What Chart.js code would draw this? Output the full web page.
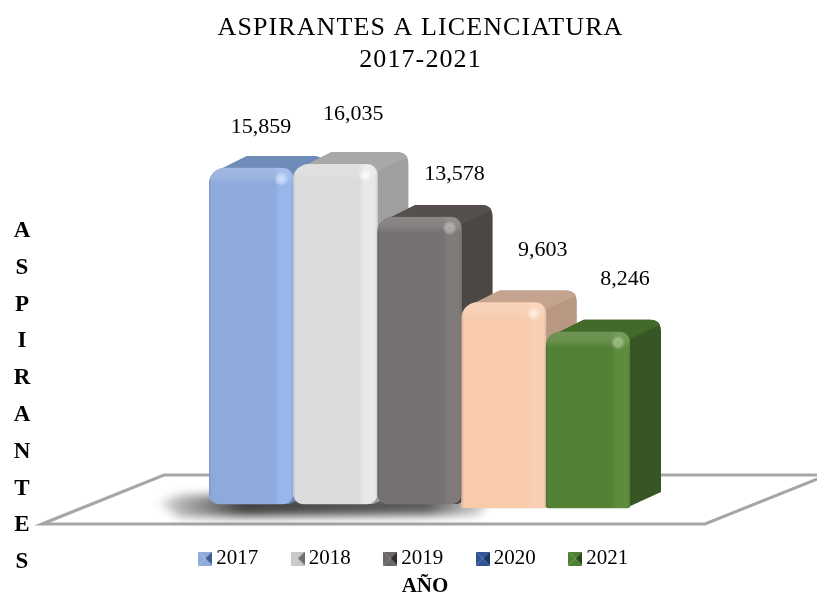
<!DOCTYPE html>
<html>
<head>
<meta charset="utf-8">
<title>Aspirantes a licenciatura</title>
<script src="https://cdn.jsdelivr.net/npm/chart.js@4"></script>
<style>
  html, body { margin: 0; padding: 0; background: #fff; }
  canvas { display: block; }
</style>
</head>
<body>
<canvas id="aspirantesChart" width="817" height="592"></canvas>
<script>
const categories = ['2017', '2018', '2019', '2020', '2021'];
const aspirantes = [15859, 16035, 13578, 9603, 8246];
const titleLines = ['ASPIRANTES A LICENCIATURA', '2017-2021'];
const yAxisTitle = ['A', 'S', 'P', 'I', 'R', 'A', 'N', 'T', 'E', 'S'];
const xAxisTitle = 'AÑO';

// Face colours per bar
const frontColors = ['#8eaadb', '#dbdbdb', '#767171', '#f8cbad', '#538135'];
const sideColors = ['#6a83ad', '#9f9f9f', '#4b4745', '#b89783', '#375623'];
const topColors = ['#6f8bb8', '#a8a8a8', '#55504e', '#c4a48e', '#426a28'];
const stripColors = ['#98b6ec', '#e8e8e8', '#807b7b', '#fad0b4', '#5d8c3c'];
const glareColors = ['#c9dcff', '#ffffff', '#a09c9c', '#fff0e0', '#7fae5f'];
// The legend swatch of 2020 is blue in the source, not the colour of its bar
const swatchColors = ['#8eaadb', '#c8c8c8', '#6b6767', '#2f5597', '#4f8132'];
const swatchDarks = ['#3f5f94', '#6f6f6f', '#2f2d2c', '#1c3766', '#2a4a18'];

// Drawing tweaks, px
const depthX = 31;
const depthY = 12;
const labelShiftX = [10, 18, 35, 39, 37];
const labelGapY = [41, 50, 43, 52, 52];
const baseLift = [5, 5, 5, 1, 1];
const cornerBottom = [11, 11, 11, 2, 3];

const SERIF = '"Liberation Serif", serif';

function makeSwatch(light, dark) {
    const c = document.createElement('canvas');
    c.width = 14;
    c.height = 14;
    const g = c.getContext('2d');
    const tri = (ax, ay, bx, by, color) => {
        g.fillStyle = color;
        g.beginPath();
        g.moveTo(ax, ay);
        g.lineTo(bx, by);
        g.lineTo(7, 7);
        g.closePath();
        g.fill();
    };
    tri(0, 0, 14, 0, light);
    tri(14, 0, 14, 14, dark);
    tri(14, 14, 0, 14, light);
    tri(0, 14, 0, 0, light);
    return c;
}
const swatches = categories.map((c, i) => makeSwatch(swatchColors[i], swatchDarks[i]));

function barBox(el, i) {
    return { l: el.x - el.width / 2, r: el.x + el.width / 2, t: el.y, b: el.base, i };
}

function drawFloor(ctx, area) {
    const frontY = area.bottom + 15;
    const backY = area.bottom - 34;
    const frontL = area.left - 167;
    const frontR = area.right + 75;
    const run = 122;
    ctx.save();
    ctx.beginPath();
    ctx.moveTo(frontL, frontY);
    ctx.lineTo(frontL + run, backY);
    ctx.lineTo(frontR + run, backY);
    ctx.lineTo(frontR, frontY);
    ctx.closePath();
    ctx.fillStyle = '#ffffff';
    ctx.fill();
    ctx.strokeStyle = '#a6a6a6';
    ctx.lineWidth = 3;
    ctx.stroke();
    ctx.restore();
}

function drawShadow(ctx, area) {
    ctx.save();
    ctx.filter = 'blur(5px)';
    const g = ctx.createLinearGradient(area.left - 50, 0, area.left + 285, 0);
    g.addColorStop(0, 'rgba(90,90,90,0.25)');
    g.addColorStop(0.25, 'rgba(65,65,65,1)');
    g.addColorStop(0.8, 'rgba(75,75,75,0.9)');
    g.addColorStop(1, 'rgba(110,110,110,0.2)');
    ctx.fillStyle = g;
    ctx.beginPath();
    ctx.moveTo(area.left - 50, area.bottom - 6);
    ctx.lineTo(area.left - 28, area.bottom - 14);
    ctx.lineTo(area.left + 285, area.bottom - 14);
    ctx.lineTo(area.left + 270, area.bottom + 6);
    ctx.lineTo(area.left - 30, area.bottom + 8);
    ctx.closePath();
    ctx.fill();
    ctx.restore();
}

function drawSide(ctx, box) {
    const { l, r, t, b, i } = box;
    ctx.save();
    ctx.fillStyle = sideColors[i];
    ctx.beginPath();
    ctx.moveTo(l + 10, t + 2);
    ctx.lineTo(l + depthX + 7, t - depthY);
    ctx.lineTo(r + depthX - 11, t - depthY);
    ctx.quadraticCurveTo(r + depthX, t - depthY, r + depthX, t - depthY + 12);
    ctx.lineTo(r + depthX, b - depthY - 4);
    ctx.lineTo(r - 4, b);
    ctx.lineTo(l + 10, b);
    ctx.closePath();
    ctx.fill();

    // top face
    ctx.fillStyle = topColors[i];
    ctx.beginPath();
    ctx.moveTo(l + 10, t + 2);
    ctx.lineTo(l + depthX + 7, t - depthY);
    ctx.lineTo(r + depthX - 11, t - depthY);
    ctx.quadraticCurveTo(r + depthX - 4, t - depthY, r + depthX - 1, t - depthY + 5);
    ctx.lineTo(r - 2, t + 8);
    ctx.lineTo(l + 10, t + 8);
    ctx.closePath();
    ctx.fill();
    ctx.restore();
}

function drawBevel(ctx, box) {
    const { l, r, t, b, i } = box;
    ctx.save();
    ctx.beginPath();
    ctx.roundRect(l, t, r - l, b - t, [16, 11, cornerBottom[i], cornerBottom[i]]);
    ctx.clip();

    // lighter strip down the right edge
    const strip = ctx.createLinearGradient(r - 19, 0, r - 13, 0);
    strip.addColorStop(0, frontColors[i]);
    strip.addColorStop(1, stripColors[i]);
    ctx.fillStyle = strip;
    ctx.fillRect(r - 19, t, 19, b - t);

    // dark soft line at the very right and left
    const edge = ctx.createLinearGradient(l, 0, r, 0);
    edge.addColorStop(0, 'rgba(0,0,0,0.12)');
    edge.addColorStop(0.03, 'rgba(0,0,0,0)');
    edge.addColorStop(0.97, 'rgba(0,0,0,0)');
    edge.addColorStop(1, 'rgba(0,0,0,0.1)');
    ctx.fillStyle = edge;
    ctx.fillRect(l, t, r - l, b - t);

    // lighter band along the top
    const band = ctx.createLinearGradient(0, t, 0, t + 16);
    band.addColorStop(0, 'rgba(255,255,255,0.16)');
    band.addColorStop(0.55, 'rgba(255,255,255,0.12)');
    band.addColorStop(1, 'rgba(255,255,255,0)');
    ctx.fillStyle = band;
    ctx.fillRect(l, t, r - l, 16);

    // glare where the bevels meet
    const gx = r - 12;
    const gy = t + 11;
    const glare = ctx.createRadialGradient(gx, gy, 0, gx, gy, 7);
    glare.addColorStop(0, glareColors[i]);
    glare.addColorStop(1, 'rgba(255,255,255,0)');
    ctx.fillStyle = glare;
    ctx.fillRect(gx - 7, gy - 7, 14, 14);
    ctx.restore();
}

const scenePlugin = {
    id: 'scene',
    afterLayout(chart) {
        // title sits a little right of the legend in the source, with wider letters
        const block = chart.titleBlock;
        block.left += 4;
        block.right += 4;
        if (!block.spaced) {
            const drawTitle = block.draw;
            block.draw = function () {
                chart.ctx.letterSpacing = '1.1px';
                drawTitle.call(block);
                chart.ctx.letterSpacing = '0px';
            };
            block.spaced = true;
        }
    },
    afterDatasetsUpdate(chart) {
        chart.getDatasetMeta(0).data.forEach((el, i) => {
            el.base -= baseLift[i];
        });
    },
    beforeDatasetsDraw(chart) {
        const { ctx, chartArea } = chart;
        drawFloor(ctx, chartArea);
        drawShadow(ctx, chartArea);
        chart.getDatasetMeta(0).data.forEach((el, i) => drawSide(ctx, barBox(el, i)));
    },
    afterDatasetsDraw(chart) {
        const { ctx, chartArea } = chart;
        const bars = chart.getDatasetMeta(0).data;
        bars.forEach((el, i) => drawBevel(ctx, barBox(el, i)));

        ctx.save();
        ctx.fillStyle = '#000000';
        ctx.textAlign = 'center';
        ctx.textBaseline = 'middle';

        // value labels
        ctx.font = '22px ' + SERIF;
        bars.forEach((el, i) => {
            ctx.fillText(aspirantes[i].toLocaleString('en-US'), el.x + labelShiftX[i], el.y - labelGapY[i]);
        });

        // stacked y title and x title
        ctx.font = 'bold 23px ' + SERIF;
        yAxisTitle.forEach((letter, i) => {
            ctx.fillText(letter, 22, chartArea.top + 109 + i * 36.8);
        });
        ctx.font = 'bold 21px ' + SERIF;
        ctx.fillText(xAxisTitle, 425, chartArea.bottom + 78);
        ctx.restore();
    }
};

new Chart(document.getElementById('aspirantesChart'), {
    type: 'bar',
    data: {
        labels: categories,
        datasets: [{
            data: aspirantes,
            backgroundColor: frontColors,
            borderSkipped: false,
            borderWidth: 0,
            borderRadius: ctx => ({
                topLeft: 16,
                topRight: 11,
                bottomLeft: cornerBottom[ctx.dataIndex],
                bottomRight: cornerBottom[ctx.dataIndex]
            }),
            barPercentage: 1,
            categoryPercentage: 1
        }]
    },
    plugins: [scenePlugin],
    options: {
        responsive: false,
        animation: false,
        events: [],
        layout: { padding: { left: 16, right: 0, top: 12, bottom: 13 } },
        scales: {
            x: { display: false },
            y: {
                min: 0,
                max: 18000,
                grid: { display: false },
                border: { display: false },
                ticks: { display: false },
                afterFit(scale) { scale.width = 193; }
            },
            gap: {
                position: 'right',
                grid: { display: false },
                border: { display: false },
                ticks: { display: false },
                afterFit(scale) { scale.width = 187; }
            }
        },
        plugins: {
            tooltip: { enabled: false },
            title: {
                display: true,
                text: titleLines,
                color: '#000000',
                font: { family: SERIF, size: 26, weight: 'normal', lineHeight: 32 / 26 },
                padding: { top: 0, bottom: 46 }
            },
            legend: {
                position: 'bottom',
                labels: {
                    usePointStyle: true,
                    pointStyleWidth: 1,
                    padding: 39,
                    color: '#000000',
                    font: { family: SERIF, size: 21 },
                    generateLabels: () => categories.map((c, i) => ({
                        text: c,
                        pointStyle: swatches[i],
                        fillStyle: swatchColors[i],
                        strokeStyle: 'transparent',
                        lineWidth: 0,
                        hidden: false,
                        index: i
                    }))
                }
            }
        }
    }
});
</script>
</body>
</html>
